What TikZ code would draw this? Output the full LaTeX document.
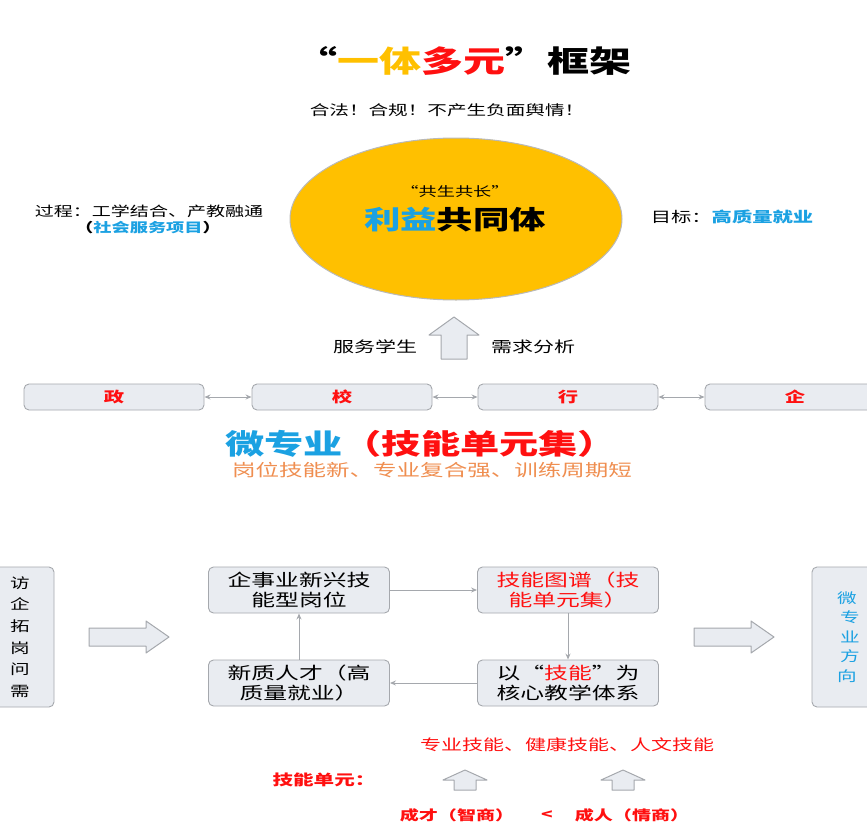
\documentclass[tikz,border=0pt]{standalone}
\usepackage{fontspec}
\setmainfont{Noto Sans CJK SC}[FakeStretch=1.4]
\usetikzlibrary{shapes.geometric,arrows.meta,positioning}
\definecolor{boxfill}{HTML}{E9ECF1}
\definecolor{boxline}{HTML}{A5A8AD}
\definecolor{skyblue}{HTML}{1BA1E2}
\definecolor{hotred}{HTML}{FF1010}
\definecolor{gold}{HTML}{FFC000}
\definecolor{peach}{HTML}{EF8E50}
\newcommand{\setfs}[2][1.05]{\fontsize{#2}{#1\dimexpr #2pt\relax}\selectfont}

\tikzset{
		unitbox/.style  = {shape=rectangle, rounded corners=5pt,
				draw=boxline, fill=boxfill, line width=0.9pt,
				align=center, inner sep=0pt},
		partner/.style  = {unitbox, minimum width=180, minimum height=26,
				text=hotred, font=\setfs{14.5}\bfseries},
		stage/.style    = {unitbox, minimum width=181, minimum height=46,
				font={\setfs[1.2]{17}}},
		sidebar/.style  = {unitbox, minimum width=76, minimum height=140},
		plain/.style    = {inner sep=0pt, align=center},
		link/.style     = {draw=boxline, line width=1pt, -{Stealth[length=6pt,width=5pt]}},
		twoway/.style   = {link, {Stealth[length=6pt,width=5pt]}-{Stealth[length=6pt,width=5pt]}},
		arrowbody/.style= {draw=boxline, fill=boxfill, line width=1pt, line join=round},
		bigup/.pic      = {\draw[arrowbody] (-13,0) -- (-13,-24) -- (-25,-24) -- (0,-42)
				-- (25,-24) -- (13,-24) -- (13,0) -- cycle;},
		smallup/.pic    = {\draw[arrowbody] (-11,0) -- (-11,-10) -- (-22,-10) -- (0,-20)
				-- (22,-10) -- (11,-10) -- (11,0) -- cycle;},
		blockright/.pic = {\draw[arrowbody] (0,-9) -- (57,-9) -- (57,-16) -- (80,0)
				-- (57,16) -- (57,9) -- (0,9) -- cycle;}
	}

\begin{document}
\begin{tikzpicture}[x=1pt, y=-1pt]
	\useasboundingbox (0,0) rectangle (867,835);

	% top: title and community
	\node[plain] (title) at (463,61) {\setfs{30}\bfseries “\textcolor{gold}{一体}\textcolor{hotred}{多元}”框架};
	\node[plain] (rule) at (447,110) {\setfs{14}合法！合规！不产生负面舆情！};
	\node[ellipse, draw=gray!55, fill=gold, line width=1pt,
		minimum width=332, minimum height=162] (ring) at (456,219) {};
	\node[plain] (motto) at (455,192) {\setfs{13}“共生共长”};
	\node[plain] (core) at (455,220) {\setfs{26}\bfseries\textcolor{skyblue}{利益}共同体};
	\node[plain] (process) at (149,211) {\setfs{13.6}过程：工学结合、产教融通};
	\node[plain] (project) at (148,228) {\setfs{13}\bfseries（\textcolor{skyblue}{社会服务项目}）};
	\node[plain] (goal) at (732,217) {\setfs{14.5}目标：\textbf{\textcolor{skyblue}{高质量就业}}};

	\pic at (454,359) {bigup};
	\node[plain] (serve) at (375,347) {\setfs{15}服务学生};
	\node[plain] (need) at (533,347) {\setfs{15}需求分析};

	% partners
	\node[partner] (zheng) at (114,397) {政};
	\node[partner] (xiao)  at (342,397) {校};
	\node[partner] (hang)  at (568,397) {行};
	\node[partner] (qi)    at (795,397) {企};
	\draw[twoway] (zheng) -- (xiao);
	\draw[twoway] (xiao) -- (hang);
	\draw[twoway] (hang) -- (qi);

	\node[plain] (micro) at (421,444) {\setfs{28}\bfseries\textcolor{skyblue}{微专业}\textcolor{hotred}{（技能单元集）}};
	\node[plain, text=peach] (traits) at (432,470) {\setfs{16.8}岗位技能新、专业复合强、训练周期短};

	% cycle
	\node[sidebar, font={\setfs[1.55]{14}}] (visit) at (16,637) {\hspace*{8pt}访\\\hspace*{8pt}企\\\hspace*{8pt}拓\\\hspace*{8pt}岗\\\hspace*{8pt}问\\\hspace*{8pt}需};
	\pic at (89,637) {blockright};
	\node[stage] (post) at (299,590) {企事业新兴技\\能型岗位};
	\node[stage, text=hotred] (atlas) at (568,590) {技能图谱（技\\能单元集）};
	\node[stage] (teach) at (568,683) {以“\textcolor{hotred}{技能}”为\\核心教学体系};
	\node[stage] (talent) at (299,683) {新质人才（高\\质量就业）};
	\draw[link] (post) -- (atlas);
	\draw[link] (atlas) -- (teach);
	\draw[link] (teach) -- (talent);
	\draw[link] (talent) -- (post);
	\pic at (694,637) {blockright};
	\node[sidebar, text=skyblue, font={\setfs[1.4]{14}}] (direction) at (850,637) {微\hspace*{6pt}\\专\hspace*{6pt}\\业\hspace*{6pt}\\方\hspace*{6pt}\\向\hspace*{6pt}};

	% skill units
	\node[plain, text=hotred] (kinds) at (567,745) {\setfs{15}专业技能、健康技能、人文技能};
	\node[plain, text=hotred] (unit) at (324,780) {\setfs{14.7}\bfseries 技能单元：};
	\pic at (465,790) {smallup};
	\pic at (623,790) {smallup};
	\node[plain, text=hotred] (iq) at (457,815) {\setfs{13.6}\bfseries 成才（智商）};
	\node[plain, text=hotred] (less) at (547,815) {\setfs{13.6}\bfseries <};
	\node[plain, text=hotred] (eq) at (632,815) {\setfs{13.6}\bfseries 成人（情商）};
\end{tikzpicture}
\end{document}
